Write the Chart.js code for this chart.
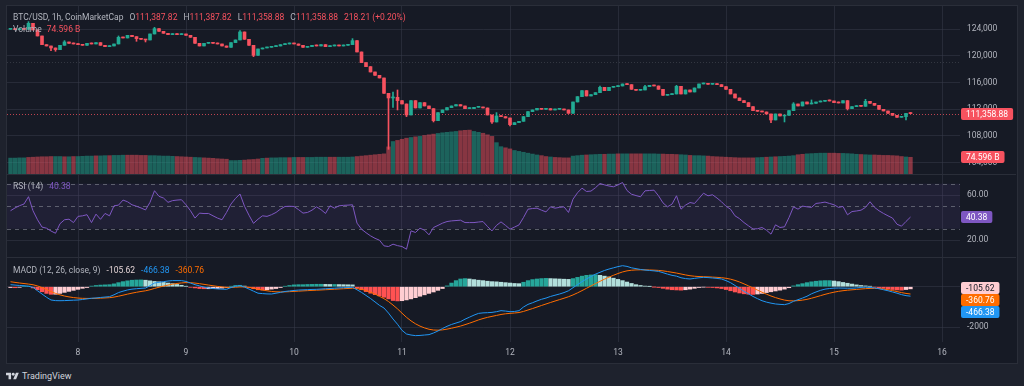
<!DOCTYPE html>
<html>
<head>
<meta charset="utf-8">
<script src="https://cdn.jsdelivr.net/npm/chart.js@4.4.1/dist/chart.umd.min.js"></script>
<style>
  html, body { margin: 0; padding: 0; }
  body { width: 1024px; height: 386px; background: #1e222d; position: relative; overflow: hidden; font-family: Roboto, "Noto Sans", sans-serif; }
  #frame { position: absolute; left: 6px; top: 5px; width: 1012px; height: 359px; box-sizing: border-box; border: 1px solid #2a2e39; background: #161a25; }
  canvas { position: absolute; left: 7px; }
  .sep { position: absolute; left: 7px; width: 1009px; height: 1px; background: #2a2e39; }
  .legend { position: absolute; left: 13px; font-size: 8.5px; line-height: 10px; color: #b2b5be; white-space: nowrap; z-index: 5; }
  .legend .g { margin-left: 6px; }
  .red { color: #f7525f; }
  #logo { position: absolute; left: 6px; top: 371px; display: flex; align-items: center; gap: 3px; color: #d1d4dc; font-size: 9px; }
</style>
</head>
<body>
<div id="frame"></div>
<canvas id="main" width="1009" height="168" style="top:6px"></canvas>
<div class="sep" style="top:174px"></div>
<canvas id="rsi" width="1009" height="82" style="top:175px"></canvas>
<div class="sep" style="top:257px"></div>
<canvas id="macd" width="1009" height="104" style="top:258px"></canvas>

<div class="legend" style="top:11.5px">BTC/USD, 1h, CoinMarketCap<span class="g">O</span><span class="red">111,387.82</span><span class="g">H</span><span class="red">111,387.82</span><span class="g">L</span><span class="red">111,358.88</span><span class="g">C</span><span class="red">111,358.88</span><span class="g red">218.21 (+0.20%)</span></div>
<div class="legend" style="top:24.3px">Volume<span class="g red" style="margin-left:5px">74.596 B</span></div>
<div class="legend" style="top:180.7px">RSI (14)<span class="g" style="color:#7e57c2">40.38</span></div>
<div class="legend" style="top:265px">MACD (12, 26, close, 9)<span class="g" style="color:#e3d3d5">-105.62</span><span class="g" style="color:#2196f3">-466.38</span><span class="g" style="color:#ff6d00">-360.76</span></div>
<div id="logo"><svg width="13" height="8" viewBox="0 0 36 22"><path d="M14 20H7V9H0V2h14v18zM28 20h-8l7.5-18h8L28 20z" fill="#d1d4dc"/><circle cx="20" cy="6" r="4" fill="#d1d4dc"/></svg><span>TradingView</span></div>

<script>
// hours counted from Oct 8 00:00, one candle per hour
const START_HOUR = -15;
const dayTicks = [0, 24, 48, 72, 96, 120, 144, 168, 192];
const dayLabels = ["8", "9", "10", "11", "12", "13", "14", "15", "16"];
const priceTicks = [104000, 108000, 112000, 116000, 120000, 124000];
const rsiTicks = [20, 60];
const macdTicks = [-2000, 0];
const firstOpen = 124000;

const closes = [
  124100, 123950, 124050, 124000, 124900, 123900, 123000, 121700, 121500, 121200,
  120950, 121600, 122100, 121900, 121800,
  121700, 121600, 121900, 121800, 122000, 121600, 121400, 121500, 121800, 122800,
  122700, 123100, 122900, 122600, 122500, 122400, 123300, 124100, 123700, 123400,
  123200, 123300, 123200, 123300, 123100, 122800, 121900, 121500, 121900, 121950,
  121900, 121800, 121500, 121300, 122000, 122400, 123600, 122500, 121600, 120100,
  121050, 121200, 121300, 121400, 121500, 121700, 121800, 121900, 121800, 121600,
  121300, 121400, 121600, 121500, 121700, 121400, 121500, 121600, 121500, 121600,
  121700, 122300, 120600, 119000, 118400, 117600, 117100, 116700, 114400, 113700,
  113800, 113300, 112800, 111150, 113300, 112200, 113000, 112500, 112100, 110300,
  111500, 111900, 112250, 112500, 112700, 112500, 112100, 112100, 112300, 112350,
  112200, 111150, 110100, 111000, 110900, 110700, 109700, 110000, 110200, 110900,
  111650, 111900, 112150, 112000, 112100, 111900, 112000, 112050, 111900, 111400,
  113100, 113900, 114800, 114000, 114200, 114500, 115300, 114800, 115300, 115400,
  115500, 115800, 115700, 115000, 114850, 114900, 115400, 115600, 115500, 115000,
  114100, 114200, 114300, 115450, 114300, 114900, 114600, 115200, 115800, 115800,
  115750, 115800, 115700, 115400, 115000, 114300, 113700, 113300, 113000, 112400,
  111800, 111700, 111600, 111300, 110400, 111300, 111000, 111100, 111800, 112800,
  112500, 113100, 112800, 112900, 113100, 113200, 113300, 113250, 113000, 112950,
  113300, 112100, 112400, 112500, 112450, 113200, 112900, 112600, 112000, 111750,
  111400, 111100, 110800, 110900, 111387.82, 111358.88
];

// visible wick extremes, keyed by hour
const wickHighs = { "-11": 125150, "-3": 122300, 9: 123000, 17: 124300, 36: 123800, 61: 122600, 70: 114600, 71: 114900, 93: 111500, 116: 115500, 126: 115600, 133: 115600, 159: 113000, 163: 113400, 175: 113500 };
const wickLows = { "-6": 120800, "-5": 120700, 13: 122200, 15: 122100, 39: 119900, 69: 106000, 70: 112300, 71: 111900, 73: 110900, 79: 110100, 92: 109900, 96: 109500, 154: 110000, 157: 110100, 171: 111900, 184: 110400 };

// volume in billions
const volumes = [
  71, 71, 72, 72, 74, 75, 76, 77, 77, 78, 78, 78, 77, 77, 78, 78,
  79, 80, 80, 81, 81, 82, 82, 83, 83, 84,
  84, 84, 84, 83, 83, 82, 82, 81, 80, 80,
  79, 78, 77, 76, 75, 74, 73, 72, 71, 70, 68, 67, 66,
  60, 60, 61, 62, 64, 65, 67,
  70, 71, 72, 72, 73, 73, 73, 74, 74, 74, 74, 74, 75, 75, 75, 75, 75, 75, 75, 75, 76,
  78, 80, 82, 84, 86, 88, 90,
  121, 145, 150, 155,
  160, 163, 166, 168, 172,
  175, 178, 181, 184, 186, 188, 190,
  193, 195, 196,
  190, 186, 182, 175, 168, 140, 122, 117, 112,
  105, 101, 97, 93, 89, 85, 82,
  78, 76, 74, 73, 72, 72,
  80, 82, 84, 85, 86, 87, 88, 88, 89, 89, 90, 90, 90, 90, 90, 90, 90, 90, 90, 89, 89, 88, 88, 87, 86, 85, 83,
  82, 82, 81, 80,
  78, 77, 76, 75, 74, 73, 72, 72, 72, 72,
  73, 74, 75, 76, 77, 78, 79, 80, 82,
  86, 88, 90, 91, 92, 93, 93, 93, 93, 92, 92, 91, 90,
  88, 87, 86, 85, 85, 84, 83, 83, 82, 81,
  78, 76, 74.596
];
// g = green volume bar, r = red volume bar
const volumeDirs =
  "ggggrrrrrrggrgr" +
  "ggggrggrgggrrrrrggggggrrrrggrrrrrr" +
  "gggrrrrgrggggrgrrgggggrrgggg" +
  "rrrrrrrrgrrrgrgrrrggggg" +
  "rrrggrrrggrrggggggrrgrrrr" +
  "gggrgggrggrggrrrggggrrrrgg" +
  "rgggrrrrrrrrrrrggrgrggggrrgggggrrrggggrggrrrrrrrgr";

const rsi = [
  46, 48.5, 50.5, 52, 58.5,
  46, 38, 31.5, 30.5, 28, 26, 34.5, 38, 38.5, 35.5,
  41, 41.5, 42.5, 35.5, 43, 38.4, 43.6, 41.5, 50.4, 51,
  55.5, 54, 51.3, 50, 48.5, 46.7, 53.5, 63.8, 58.8, 57.3,
  53.5, 55, 55.5, 55.8, 51.3, 46, 39.5, 43.9, 43.5, 43.6,
  41.5, 39.5, 38, 44.5, 52, 57, 60.9, 50, 42, 34.8,
  38.5, 41.5, 41, 42.5, 44.5, 47.5, 49.8, 50, 49.8, 47,
  43.9, 44.5, 46.5, 49.5, 47, 43.6, 50.4, 48.3, 50.4, 50.8,
  51, 51.3, 35, 29.6, 26.5, 23.7, 21.5, 19.8, 14.8, 14.2,
  16.3, 15, 14.2, 11.8, 28.1, 26.7, 30.5, 28.7, 24.6, 31.1,
  33, 35, 36.4, 37, 37.3, 37.6, 35.5, 35.5, 35.5, 36,
  36.4, 32, 28.1, 33, 36.1, 33, 29.6, 31.5, 33.4, 40,
  47.4, 48, 48.3, 46.5, 45, 49.5, 48.3, 49, 49.5, 44.5,
  56.3, 62, 66.1, 63.1, 63.5, 66.5, 70.2, 69, 68, 67.3,
  69, 71.1, 64, 60.7, 59.5, 58.4, 63.7, 64, 64.3, 59.3,
  53, 49.5, 51.9, 59.3, 47.4, 51, 53.3, 52.5, 57, 61.6,
  59.3, 60.2, 57.3, 54, 50, 47.4, 41.5, 39, 35.5, 32.6,
  29.8, 30, 31.1, 28.7, 25.2, 33.5, 31.1, 31.7, 40, 49.5,
  47.4, 50.1, 49.5, 49, 52.5, 53, 53.7, 52.5, 51.3, 49,
  49.8, 42.4, 45.3, 45.8, 46.5, 49, 54, 49, 46, 43.6,
  41.5, 39.5, 34, 32.3, 36.5, 40.38
];

const macdLine = [
  100, 80, 60, 50, 20,
  -30, -200, -360, -520, -655, -685, -690, -685, -675, -665,
  -655, -630, -600, -570, -555, -530, -510, -490, -400, -290,
  -220, -160, -120, -100, -80, -65, 50, 180, 215, 250,
  280, 300, 300, 300, 260, 180, 100, 40, -20, -60,
  -90, -110, -120, -130, -40, 20, 50, -20, -115, -220,
  -320, -340, -355, -360, -320, -280, -235, -210, -185, -165,
  -155, -145, -135, -130, -115, -100, -90, -75, -60, -50,
  -40, -30, -150, -280, -430, -580, -750, -920, -1050, -1300,
  -1590, -1850, -2150, -2330, -2380, -2410, -2400, -2380, -2360, -2280,
  -2180, -2060, -1950, -1860, -1790, -1720, -1600, -1500, -1400, -1315,
  -1290, -1280, -1265, -1230, -1180, -1200, -1230, -1220, -1180, -1000,
  -870, -790, -700, -620, -560, -480, -420, -360, -290, -200,
  -50, 100, 250, 380, 500, 620, 710, 800, 870, 930,
  990, 1035, 1000, 930, 890, 850, 820, 800, 780, 755,
  690, 620, 560, 520, 440, 400, 380, 410, 440, 460,
  450, 430, 410, 380, 300, 200, 60, -80, -230, -350,
  -480, -590, -690, -760, -810, -850, -870, -885, -830, -720,
  -640, -560, -470, -350, -260, -180, -120, -90, -70, -65,
  -70, -75, -75, -60, -35, -25, -40, -60, -100, -150,
  -200, -260, -320, -390, -440, -466.38
];

const signalLine = [
  245, 212, 182, 156, 129,
  97, 38, -42, -138, -241, -330, -402, -459, -502, -535,
  -559, -573, -578, -576, -572, -564, -553, -540, -512, -468,
  -418, -366, -317, -274, -235, -201, -151, -85, -25, 30,
  80, 124, 159, 187, 202, 198, 178, 150, 116, 81,
  47, 16, -11, -35, -36, -25, -10, -12, -33, -70,
  -120, -164, -202, -234, -251, -257, -253, -244, -232, -219,
  -206, -194, -182, -172, -161, -149, -137, -125, -112, -100,
  -88, -76, -91, -129, -189, -267, -364, -475, -589, -731,
  -903, -1092, -1304, -1509, -1683, -1828, -1942, -2030, -2096, -2133,
  -2142, -2126, -2091, -2045, -1994, -1939, -1871, -1797, -1718, -1637,
  -1568, -1510, -1461, -1415, -1368, -1334, -1313, -1295, -1272, -1218,
  -1148, -1077, -1001, -925, -852, -778, -706, -637, -568, -494,
  -405, -304, -193, -78, 38, 154, 265, 372, 472, 564,
  649, 726, 781, 811, 827, 832, 830, 824, 815, 803,
  780, 748, 710, 672, 626, 581, 541, 515, 500, 492,
  484, 473, 460, 444, 415, 372, 310, 232, 140, 42,
  -62, -168, -272, -370, -458, -536, -603, -659, -693, -698,
  -686, -661, -623, -568, -506, -441, -377, -320, -270, -229,
  -197, -173, -153, -134, -114, -96, -85, -80, -90, -115,
  -150, -190, -240, -290, -330, -360.76
];

const histogram = [
  -40, -50, -30, 20, 30,
  -60, -150, -250, -330, -375, -370, -330, -280, -230, -180,
  -130, -80, -40, 30, 60, 80, 90, 100, 140, 200,
  250, 290, 320, 330, 335, 320, 290, 260, 240, 210,
  180, 150, 110, 70, 20, -30, -60, -90, -100, -100,
  -95, -90, -70, -40, 20, 60, 70, 30, -40, -100,
  -150, -165, -150, -120, -90, -40, 20, 60, 90, 100,
  100, 110, 115, 120, 120, 115, 110, 110, 105, 100,
  95, 90, -60, -150, -240, -320, -390, -450, -520, -600,
  -680, -700, -690, -650, -600, -540, -470, -400, -330, -260,
  -180, -90, 40, 180, 300, 380, 400, 380, 350, 320,
  300, 270, 250, 240, 220, 200, 180, 160, 150, 220,
  300, 350, 380, 400, 410, 400, 390, 380, 370, 360,
  400, 460, 520, 560, 580, 590, 560, 520, 480, 420,
  360, 300, 230, 160, 100, 60, 30, 10, -10, -40,
  -80, -120, -150, -160, -170, -150, -120, -80, -40, -20,
  -30, -40, -60, -90, -140, -200, -260, -310, -350, -370,
  -380, -360, -330, -290, -250, -210, -170, -120, -50, 40,
  100, 150, 200, 240, 270, 290, 300, 300, 280, 250,
  210, 170, 130, 90, 60, 40, 20, -20, -50, -80,
  -110, -140, -160, -170, -140, -105.62
];

const UP = "#22ab94";
const DOWN = "#f7525f";
const GRID = "rgba(54, 58, 72, 0.55)";
const LABEL = "#b2b5be";
const AXIS_W = 56;
const X_MIN = -71 / 4.5;
const X_MAX = 196;

Chart.defaults.font.family = "Roboto, 'Noto Sans', sans-serif";
Chart.defaults.font.size = 8.5;
Chart.defaults.color = LABEL;

const hours = closes.map((_, i) => START_HOUR + i);
const opens = closes.map((c, i) => (i === 0 ? firstOpen : closes[i - 1]));
const highs = closes.map((c, i) => Math.max(opens[i], c, wickHighs[hours[i]] ?? -Infinity));
const lows = closes.map((c, i) => Math.min(opens[i], c, wickLows[hours[i]] ?? Infinity));
const candleColors = closes.map((c, i) => (c >= opens[i] ? UP : DOWN));
const volumeColors = volumes.map((_, i) =>
  volumeDirs[i] === "g" ? "rgba(34, 171, 148, 0.5)" : "rgba(247, 82, 95, 0.5)",
);
const histColors = histogram.map((h, i) => {
  const prev = i ? histogram[i - 1] : h;
  if (h >= 0) return h >= prev ? "#26a69a" : "#b2dfdb";
  return h < prev ? "#ff5252" : "#ffcdd2";
});

const series = (values) => values.map((v, i) => ({ x: hours[i], y: v }));
const fixedTicks = (values) => (scale) => {
  scale.ticks = values.map((value) => ({ value }));
};

function xScale(showLabels) {
  return {
    type: "linear",
    min: X_MIN,
    max: X_MAX,
    offset: false,
    grid: { color: GRID, drawTicks: false, offset: false },
    border: { display: false },
    ticks: {
      display: showLabels,
      autoSkip: false,
      maxRotation: 0,
      padding: 6,
      color: LABEL,
      callback: (v) => dayLabels[dayTicks.indexOf(v)] ?? "",
    },
    afterBuildTicks: fixedTicks(dayTicks),
    afterFit: (scale) => {
      scale.height = showLabels ? 20 : 0;
      scale.paddingLeft = 0;
      scale.paddingRight = 0;
    },
  };
}

function yScale(min, max, values, format) {
  return {
    position: "right",
    min,
    max,
    grid: { color: GRID, drawTicks: false },
    border: { display: false },
    ticks: { color: LABEL, padding: 7, callback: format },
    afterBuildTicks: fixedTicks(values),
    afterFit: (scale) => {
      scale.width = AXIS_W;
      scale.paddingTop = 0;
      scale.paddingBottom = 0;
    },
  };
}

function tag(ctx, x, y, text, bg, fg) {
  ctx.save();
  ctx.font = "8.5px Roboto, 'Noto Sans', sans-serif";
  const w = ctx.measureText(text).width + 10;
  ctx.fillStyle = bg;
  ctx.beginPath();
  ctx.roundRect(x, Math.round(y - 6), w, 12, 2);
  ctx.fill();
  ctx.fillStyle = fg;
  ctx.textBaseline = "middle";
  ctx.fillText(text, x + 5, Math.round(y - 6) + 6.5);
  ctx.restore();
}

function hLine(ctx, area, y, color, dash) {
  ctx.save();
  ctx.strokeStyle = color;
  ctx.lineWidth = 1;
  ctx.setLineDash(dash);
  ctx.beginPath();
  ctx.moveTo(area.left, Math.round(y) + 0.5);
  ctx.lineTo(area.right, Math.round(y) + 0.5);
  ctx.stroke();
  ctx.restore();
}

const common = {
  responsive: false,
  animation: false,
  devicePixelRatio: 1,
  events: [],
  layout: { padding: 0 },
  plugins: { legend: { display: false }, tooltip: { enabled: false } },
  datasets: { bar: { grouped: false } },
};

const lastClose = closes[closes.length - 1];
const lastVolume = volumes[volumes.length - 1];

new Chart(document.getElementById("main"), {
  type: "bar",
  data: {
    datasets: [
      {
        data: hours.map((t, i) => ({ x: t, y: [lows[i], highs[i]] })),
        backgroundColor: candleColors,
        barThickness: 1,
        minBarLength: 1,
        order: 2,
      },
      {
        data: hours.map((t, i) => ({ x: t, y: [opens[i], closes[i]] })),
        backgroundColor: candleColors,
        barThickness: 3,
        minBarLength: 1,
        order: 1,
      },
      {
        data: series(volumes),
        backgroundColor: volumeColors,
        barThickness: 3.7,
        yAxisID: "yv",
        order: 3,
      },
    ],
  },
  options: {
    ...common,
    scales: {
      x: xScale(false),
      y: yScale(102295, 127495, priceTicks, (v) => v.toLocaleString("en-US")),
      yv: { display: false, min: 0, max: 750 },
    },
  },
  plugins: [
    {
      id: "priceLines",
      beforeDatasetsDraw(chart) {
        const { ctx, chartArea, scales } = chart;
        hLine(ctx, chartArea, scales.y.getPixelForValue(119150), "rgba(120, 123, 134, 0.3)", [1, 2]);
        hLine(ctx, chartArea, scales.y.getPixelForValue(lastClose), "rgba(247, 82, 95, 0.75)", [1, 2]);
      },
      afterDraw(chart) {
        const { ctx, chartArea, scales } = chart;
        tag(ctx, chartArea.right + 1, scales.y.getPixelForValue(lastClose),
          lastClose.toLocaleString("en-US", { minimumFractionDigits: 2 }), DOWN, "#ffffff");
        tag(ctx, chartArea.right + 1, scales.yv.getPixelForValue(lastVolume),
          lastVolume.toFixed(3) + " B", DOWN, "#ffffff");
      },
    },
  ],
});

new Chart(document.getElementById("rsi"), {
  type: "line",
  data: {
    datasets: [
      {
        data: series(rsi),
        borderColor: "#7e57c2",
        borderWidth: 1,
        pointRadius: 0,
        tension: 0,
      },
    ],
  },
  options: {
    ...common,
    scales: {
      x: xScale(false),
      y: yScale(4.89, 77.78, rsiTicks, (v) => v.toFixed(2)),
    },
  },
  plugins: [
    {
      id: "rsiBand",
      beforeDatasetsDraw(chart) {
        const { ctx, chartArea, scales } = chart;
        const top = scales.y.getPixelForValue(70);
        const bottom = scales.y.getPixelForValue(30);
        ctx.save();
        ctx.fillStyle = "rgba(126, 87, 194, 0.1)";
        ctx.fillRect(chartArea.left, top, chartArea.right - chartArea.left, bottom - top);
        ctx.restore();
        [70, 50, 30].forEach((v) =>
          hLine(ctx, chartArea, scales.y.getPixelForValue(v), "rgba(120, 123, 134, 0.7)", [4, 4]),
        );
      },
      afterDraw(chart) {
        const { ctx, chartArea, scales } = chart;
        const last = rsi[rsi.length - 1];
        tag(ctx, chartArea.right + 1, scales.y.getPixelForValue(last), last.toFixed(2), "#7e57c2", "#ffffff");
      },
    },
  ],
});

new Chart(document.getElementById("macd"), {
  type: "bar",
  data: {
    datasets: [
      {
        data: series(histogram),
        backgroundColor: histColors,
        barThickness: 3.6,
        order: 3,
      },
      {
        type: "line",
        data: series(signalLine),
        borderColor: "#ff6d00",
        borderWidth: 1,
        pointRadius: 0,
        order: 2,
      },
      {
        type: "line",
        data: series(macdLine),
        borderColor: "#2196f3",
        borderWidth: 1,
        pointRadius: 0,
        order: 1,
      },
    ],
  },
  options: {
    ...common,
    scales: {
      x: xScale(true),
      y: yScale(-2724, 1414, macdTicks, (v) => String(v)),
    },
  },
  plugins: [
    {
      id: "macdTags",
      afterDraw(chart) {
        const { ctx, chartArea, scales } = chart;
        const items = [
          { v: histogram[histogram.length - 1], bg: "#ffcdd2", fg: "#131722" },
          { v: signalLine[signalLine.length - 1], bg: "#ff6d00", fg: "#ffffff" },
          { v: macdLine[macdLine.length - 1], bg: "#2196f3", fg: "#ffffff" },
        ].map((it) => ({ ...it, y: scales.y.getPixelForValue(it.v) }));
        items.sort((a, b) => a.y - b.y);
        let prev = -Infinity;
        items.forEach((it) => {
          const y = Math.max(it.y - 1, prev + 12.3);
          tag(ctx, chartArea.right + 1, y, it.v.toFixed(2), it.bg, it.fg);
          prev = y;
        });
      },
    },
  ],
});
</script>
</body>
</html>
